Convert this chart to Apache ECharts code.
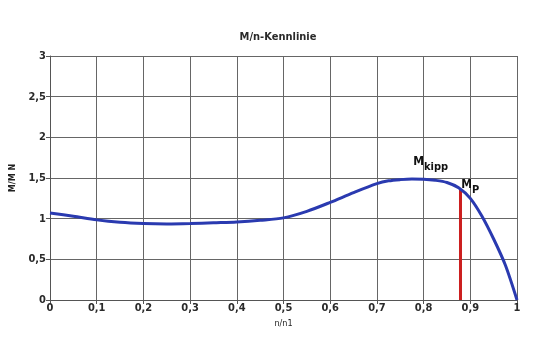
<!DOCTYPE html>
<html><head><meta charset="utf-8">
<script src="https://cdn.jsdelivr.net/npm/echarts@6/dist/echarts.min.js"></script>
<style>html,body{margin:0;padding:0;background:#fff}#c{width:540px;height:360px}</style>
</head><body><div id="c"></div>
<script>
const speedRatio = [0, 0.05, 0.1, 0.15, 0.2, 0.25, 0.3, 0.35, 0.4, 0.45, 0.5, 0.55, 0.6, 0.65, 0.7, 0.725, 0.75, 0.775, 0.8, 0.825, 0.85, 0.875, 0.9, 0.925, 0.95, 0.975, 1.0];
const torqueRatio = [1.07, 1.03, 0.985, 0.955, 0.94, 0.935, 0.94, 0.95, 0.96, 0.98, 1.01, 1.09, 1.2, 1.32, 1.43, 1.465, 1.48, 1.487, 1.485, 1.472, 1.445, 1.38, 1.25, 1.03, 0.75, 0.43, 0.0];
const pullUpX = 0.879;
const pullUpY = 1.365;
const xTicks = ['0','0,1','0,2','0,3','0,4','0,5','0,6','0,7','0,8','0,9','1'];
const yTicks = ['0','0,5','1','1,5','2','2,5','3'];
const annotations = [{x: 0.815, y: 1.66, main: 'M', sub: 'kipp'}, {x: 0.9, y: 1.38, main: 'M', sub: 'P'}];

const FONT = '"DejaVu Sans Condensed", "Liberation Sans", Arial, sans-serif';
const chart = echarts.init(document.getElementById('c'));
const fmt = (list, step) => v => { const i = Math.round(v / step); return list[i] !== undefined ? list[i] : ''; };
chart.setOption({
  animation: false,
  title: {text: 'M/n-Kennlinie', left: 273, top: 27, textAlign: 'center',
    textStyle: {fontFamily: FONT, fontSize: 11, fontWeight: 'bold', color: '#2a2a2a'}},
  grid: {left: 50, right: 23, top: 56, bottom: 60},
  xAxis: {type: 'value', min: 0, max: 1, interval: 0.1,
    name: 'n/n1', nameLocation: 'middle', nameGap: 19,
    nameTextStyle: {fontFamily: FONT, fontSize: 9, color: '#222'},
    axisLine: {lineStyle: {color: '#555', width: 1}},
    axisTick: {show: true, length: 4, lineStyle: {color: '#555'}},
    axisLabel: {fontFamily: FONT, fontSize: 11, fontWeight: 'bold', color: '#2a2a2a', margin: 3, formatter: fmt(xTicks, 0.1)},
    splitLine: {show: true, lineStyle: {color: '#666', width: 1}}},
  yAxis: {type: 'value', min: 0, max: 3, interval: 0.5,
    name: 'M/M N', nameLocation: 'middle', nameGap: 22, nameRotate: 90,
    nameTextStyle: {fontFamily: FONT, fontSize: 9, fontWeight: 'bold', color: '#222'},
    axisLine: {show: true, lineStyle: {color: '#555', width: 1}},
    axisTick: {show: true, length: 4, lineStyle: {color: '#555'}},
    axisLabel: {fontFamily: FONT, fontSize: 11, fontWeight: 'bold', color: '#2a2a2a', margin: 4, formatter: fmt(yTicks, 0.5)},
    splitLine: {show: true, lineStyle: {color: '#666', width: 1}}},
  series: [
    {type: 'line', data: [[pullUpX, 0], [pullUpX, pullUpY]], symbol: 'none',
      lineStyle: {color: '#cc1f1f', width: 3}, z: 2},
    {type: 'line', data: speedRatio.map((x, i) => [x, torqueRatio[i]]), smooth: 0.3, symbol: 'none',
      lineStyle: {color: '#2a3ab0', width: 3}, z: 3},
    {type: 'scatter', symbolSize: 0, z: 4, itemStyle: {opacity: 1},
      data: annotations.map(a => ({value: [a.x, a.y], label: {formatter: '{m|' + a.main + '}{s|' + a.sub + '}'}})),
      label: {show: true, position: 'inside', color: '#111',
        rich: {m: {fontFamily: FONT, fontSize: 12, fontWeight: 'bold', color: '#111', verticalAlign: 'bottom', padding: [0,0,6,0]},
               s: {fontFamily: FONT, fontSize: 11, fontWeight: 'bold', color: '#111', verticalAlign: 'top', padding: [6,0,0,0]}}}}
  ]
});
</script></body></html>
